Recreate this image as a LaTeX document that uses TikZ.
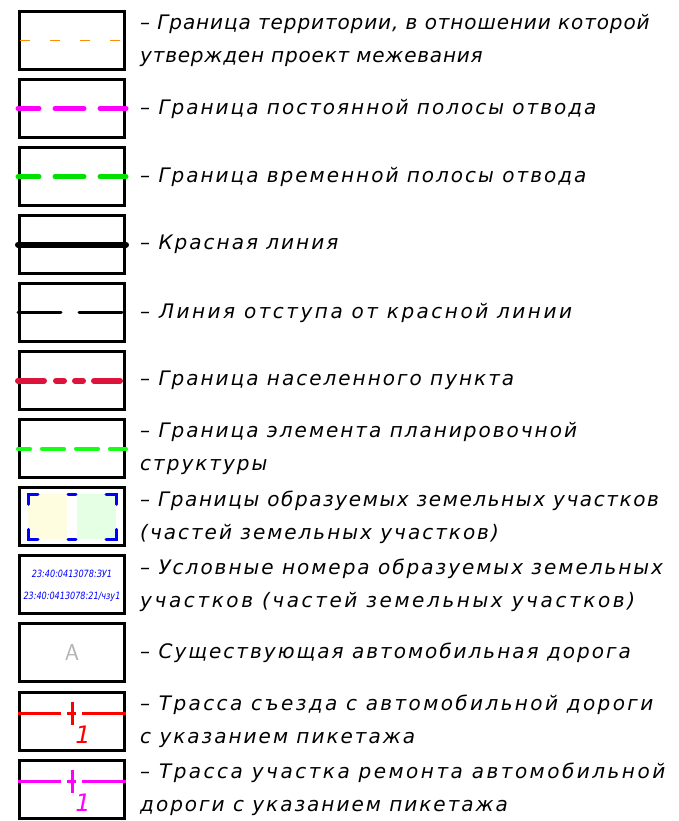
\documentclass[tikz,border=0pt]{standalone}
\usepackage{fontspec}
\setmainfont{DejaVu Sans}
\newfontfamily\legfont[LetterSpace=10]{DejaVu Sans}
\newfontfamily\condfont[FakeStretch=0.9]{DejaVu Sans Condensed}
\newcommand{\track}[2]{{\addfontfeature{LetterSpace=#1}#2}}
\usepackage{tikz}
\usetikzlibrary{positioning,calc}
\definecolor{crimson}{RGB}{220,20,60}
\definecolor{legorange}{RGB}{255,140,0}
\definecolor{leggreen}{RGB}{0,225,0}
\definecolor{leglime}{RGB}{20,255,20}
\definecolor{legmagenta}{RGB}{255,0,255}
\definecolor{legblue}{RGB}{0,0,255}

\begin{document}
\begin{tikzpicture}[x=1pt,y=-1pt,
  legbox/.style={draw, line width=3pt, minimum width=105pt, minimum height=58pt, inner sep=0pt},
  legtext/.style={anchor=west, align=left, inner sep=0pt, font=\legfont\fontsize{20}{33}\selectfont\itshape},
  numtext/.style={text=legblue, inner sep=0pt, font=\condfont\fontsize{10}{12}\selectfont\itshape},
  trasse/.style={line width=3pt}]
\useasboundingbox (0,0) rectangle (679,821);
\foreach \i in {1,...,12}
  \node[legbox] (box\i) at (72,{40.5+68.05*(\i-1)}) {};
% line samples
\draw[legorange, line width=1.5pt, dash pattern=on 10pt off 20pt, dash phase=28pt] (box1.west) -- (box1.east);
\draw[legmagenta, line width=5pt, line cap=round, dash pattern=on 29pt off 16pt, dash phase=8pt] (box2.west) -- (box2.east);
\draw[leggreen, line width=5pt, line cap=round, dash pattern=on 29pt off 16pt, dash phase=8pt] (box3.west) -- (box3.east);
\draw[line width=6pt, line cap=round] (box4.west) -- (box4.east);
\draw[line width=3pt, line cap=round, dash pattern=on 43pt off 18pt] (box5.west) -- (box5.east);
\draw[crimson, line width=6pt, line cap=round, dash pattern=on 26pt off 12pt on 8pt off 11pt on 8pt off 11pt] (box6.west) -- (box6.east);
\draw[leglime, line width=4pt, line cap=round, dash pattern=on 22pt off 12pt, dash phase=10pt] (box7.west) -- (box7.east);
% parcels
\begin{scope}[shift={(box8.center)}]
  \fill[yellow!12] (-44,-22.5) rectangle (-5,22.5);
  \fill[green!10] (5,-22.5) rectangle (44,22.5);
  \begin{scope}[legblue, line width=3pt, line cap=round]
    \draw (-44,-12.5) -- (-44,-22.5) -- (-34,-22.5);
    \draw (34,-22.5) -- (44,-22.5) -- (44,-12.5);
    \draw (-44,12.5) -- (-44,22.5) -- (-34,22.5);
    \draw (34,22.5) -- (44,22.5) -- (44,12.5);
    \draw (-4,-22.5) -- (4,-22.5);
    \draw (-4,22.5) -- (4,22.5);
  \end{scope}
\end{scope}
\node[numtext] (num1) at ($(box9.center)+(0,-11.5)$) {23:40:0413078:ЗУ1};
\node[numtext] (num2) at ($(box9.center)+(0,11.5)$) {23:40:0413078:21/чзу1};
\node[text=black!30, font=\fontsize{23}{23}\selectfont\sffamily] (road) at (box10.center) {A};
% exits with stationing
\foreach \i/\c in {11/red, 12/legmagenta} {
  \coordinate (p\i) at ($(box\i.center)+(0,-8)$);
  \draw[trasse, \c] (box\i.west |- p\i) -- ($(p\i)+(-11,0)$) ($(p\i)+(10,0)$) -- (box\i.east |- p\i);
  \draw[trasse, \c] ($(p\i)+(0,-11)$) -- ($(p\i)+(0,12)$) ($(p\i)+(-5,0)$) -- ($(p\i)+(4,0)$);
  \node[text=\c, font=\fontsize{24}{24}\selectfont\itshape] (pk\i) at ($(p\i)+(11,22)$) {1};
}
% explanations
\node[legtext, right=14pt of box1] (txt1) {\track{4.5}{– Граница территории, в отношении которой}\\\track{4}{утвержден проект межевания}};
\node[legtext, right=14pt of box2] (txt2) {– Граница постоянной полосы отвода};
\node[legtext, right=14pt of box3] (txt3) {– Граница временной полосы отвода};
\node[legtext, right=14pt of box4] (txt4) {– Красная линия};
\node[legtext, right=14pt of box5] (txt5) {\track{12.5}{– Линия отступа от красной линии}};
\node[legtext, right=14pt of box6] (txt6) {– Граница населенного пункта};
\node[legtext, right=14pt of box7] (txt7) {– Граница элемента планировочной\\структуры};
\node[legtext, right=14pt of box8] (txt8) {\track{8}{– Границы образуемых земельных участков}\\(частей земельных участков)};
\node[legtext, right=14pt of box9] (txt9) {– Условные номера образуемых земельных\\\track{13}{участков (частей земельных участков)}};
\node[legtext, right=14pt of box10] (txt10) {– Существующая автомобильная дорога};
\node[legtext, right=14pt of box11] (txt11) {\track{12}{– Трасса съезда с автомобильной дороги}\\с указанием пикетажа};
\node[legtext, right=14pt of box12] (txt12) {\track{12.5}{– Трасса участка ремонта автомобильной}\\дороги с указанием пикетажа};
\end{tikzpicture}
\end{document}
